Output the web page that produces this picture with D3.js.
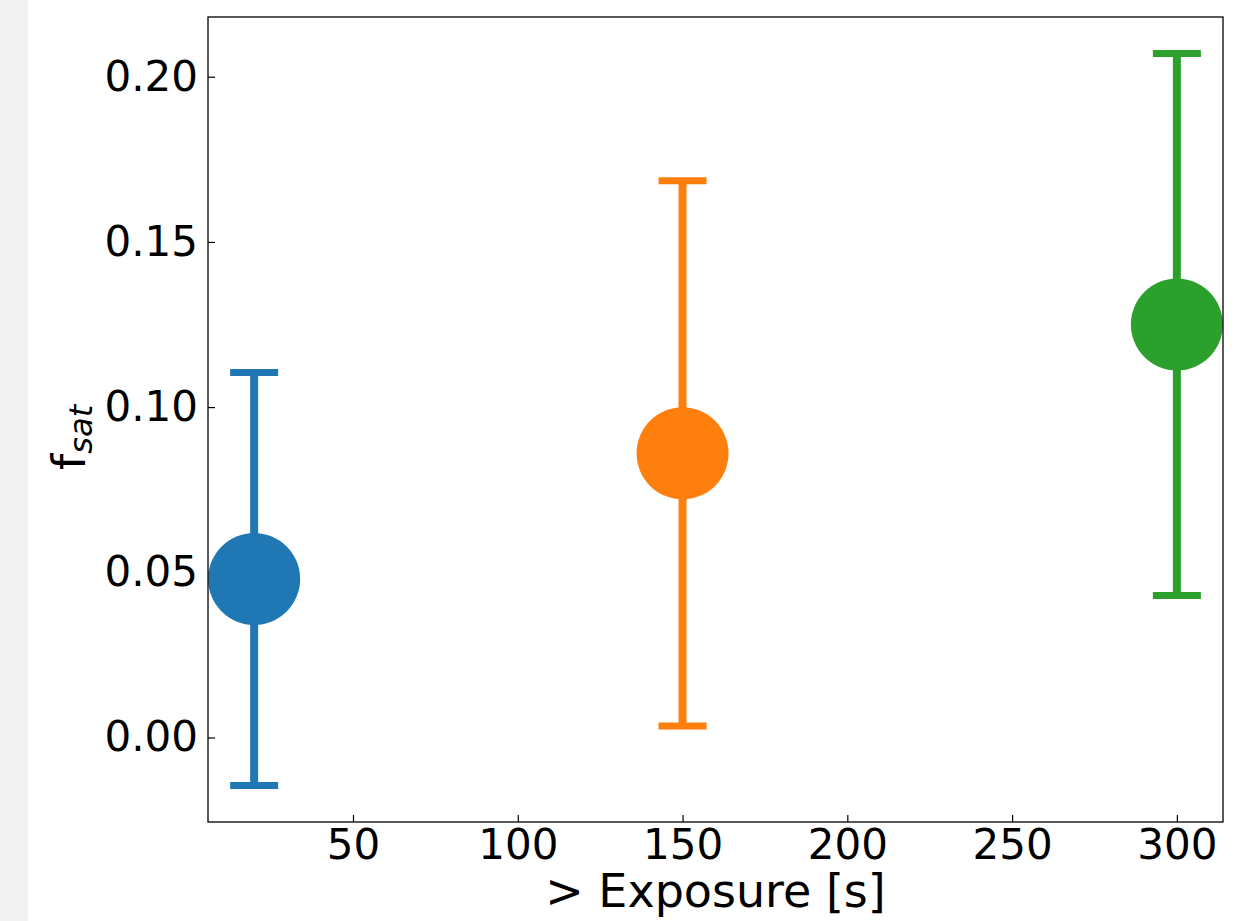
<!DOCTYPE html>
<html>
<head>
<meta charset="utf-8">
<script src="https://cdn.jsdelivr.net/npm/d3@7"></script>
<style>
  html, body { margin: 0; padding: 0; background: #ffffff; }
  svg { display: block; }
  text { font-family: "DejaVu Sans", sans-serif; fill: #000; }
</style>
</head>
<body>
<script>
// ---- data ----
const exposures = [20, 150, 300];
const fsat = [0.048, 0.086, 0.125];
const fsatErr = [0.0625, 0.0825, 0.082];
const colors = ["#1f77b4", "#ff7f0e", "#2ca02c"];
const xTicks = [50, 100, 150, 200, 250, 300];
const yTicks = [0.00, 0.05, 0.10, 0.15, 0.20];
const xLabel = "> Exposure [s]";
const yLabelMain = "f";
const yLabelSub = "sat";

// ---- layout ----
const W = 1237, H = 921;
const plot = { left: 208, top: 17, right: 1223, bottom: 822 };
const fontSize = 42;
const labelSize = 46;

const svg = d3.select("body").append("svg").attr("width", W).attr("height", H);

// faint grey strip on the far left
svg.append("rect").attr("x", 0).attr("y", 0).attr("width", 28).attr("height", H).attr("fill", "#f2f2f2");

// scales with 5% margins like matplotlib
const xmin = d3.min(exposures), xmax = d3.max(exposures);
const xm = (xmax - xmin) * 0.05;
const x = d3.scaleLinear().domain([xmin - xm, xmax + xm]).range([plot.left, plot.right]);
const lo = d3.min(fsat.map((v, i) => v - fsatErr[i]));
const hi = d3.max(fsat.map((v, i) => v + fsatErr[i]));
const ym = (hi - lo) * 0.05;
const y = d3.scaleLinear().domain([lo - ym, hi + ym]).range([plot.bottom, plot.top]);

// axes
const gx = svg.append("g").attr("transform", `translate(0,${plot.bottom})`)
  .call(d3.axisBottom(x).tickValues(xTicks).tickFormat(d3.format("d")).tickSizeInner(-7).tickSizeOuter(0).tickPadding(7));
const gy = svg.append("g").attr("transform", `translate(${plot.left},0)`)
  .call(d3.axisLeft(y).tickValues(yTicks).tickFormat(d3.format(".2f")).tickSizeInner(-7).tickSizeOuter(0).tickPadding(10));
[gx, gy].forEach(g => {
  g.select(".domain").remove();
  g.selectAll(".tick line").attr("stroke", "#000").attr("stroke-width", 1.2);
  g.selectAll(".tick text").attr("font-size", fontSize).attr("font-family", "DejaVu Sans").attr("fill", "#000");
});

// error bars and points
const data = exposures.map((e, i) => ({ e, v: fsat[i], err: fsatErr[i], c: colors[i] }));
const capHalf = 24;
const g = svg.append("g");
data.forEach(d => {
  const cx = x(d.e);
  g.append("line").attr("x1", cx).attr("x2", cx).attr("y1", y(d.v - d.err)).attr("y2", y(d.v + d.err))
    .attr("stroke", d.c).attr("stroke-width", 8);
  [d.v - d.err, d.v + d.err].forEach(v => {
    g.append("line").attr("x1", cx - capHalf).attr("x2", cx + capHalf).attr("y1", y(v)).attr("y2", y(v))
      .attr("stroke", d.c).attr("stroke-width", 7);
  });
  g.append("circle").attr("cx", cx).attr("cy", y(d.v)).attr("r", 46).attr("fill", d.c);
});

// frame
svg.append("rect").attr("x", plot.left).attr("y", plot.top)
  .attr("width", plot.right - plot.left).attr("height", plot.bottom - plot.top)
  .attr("fill", "none").attr("stroke", "#000").attr("stroke-width", 1.3);

// labels
svg.append("text").attr("x", (plot.left + plot.right) / 2).attr("y", 907)
  .attr("text-anchor", "middle").attr("font-size", labelSize).text(xLabel);

const yl = svg.append("text").attr("transform", `translate(85,470) rotate(-90)`)
  .attr("text-anchor", "start").attr("font-size", labelSize);
yl.append("tspan").text(yLabelMain);
yl.append("tspan").attr("font-size", labelSize * 0.7).attr("font-style", "italic").attr("dy", 7).text(yLabelSub);
</script>
</body>
</html>
